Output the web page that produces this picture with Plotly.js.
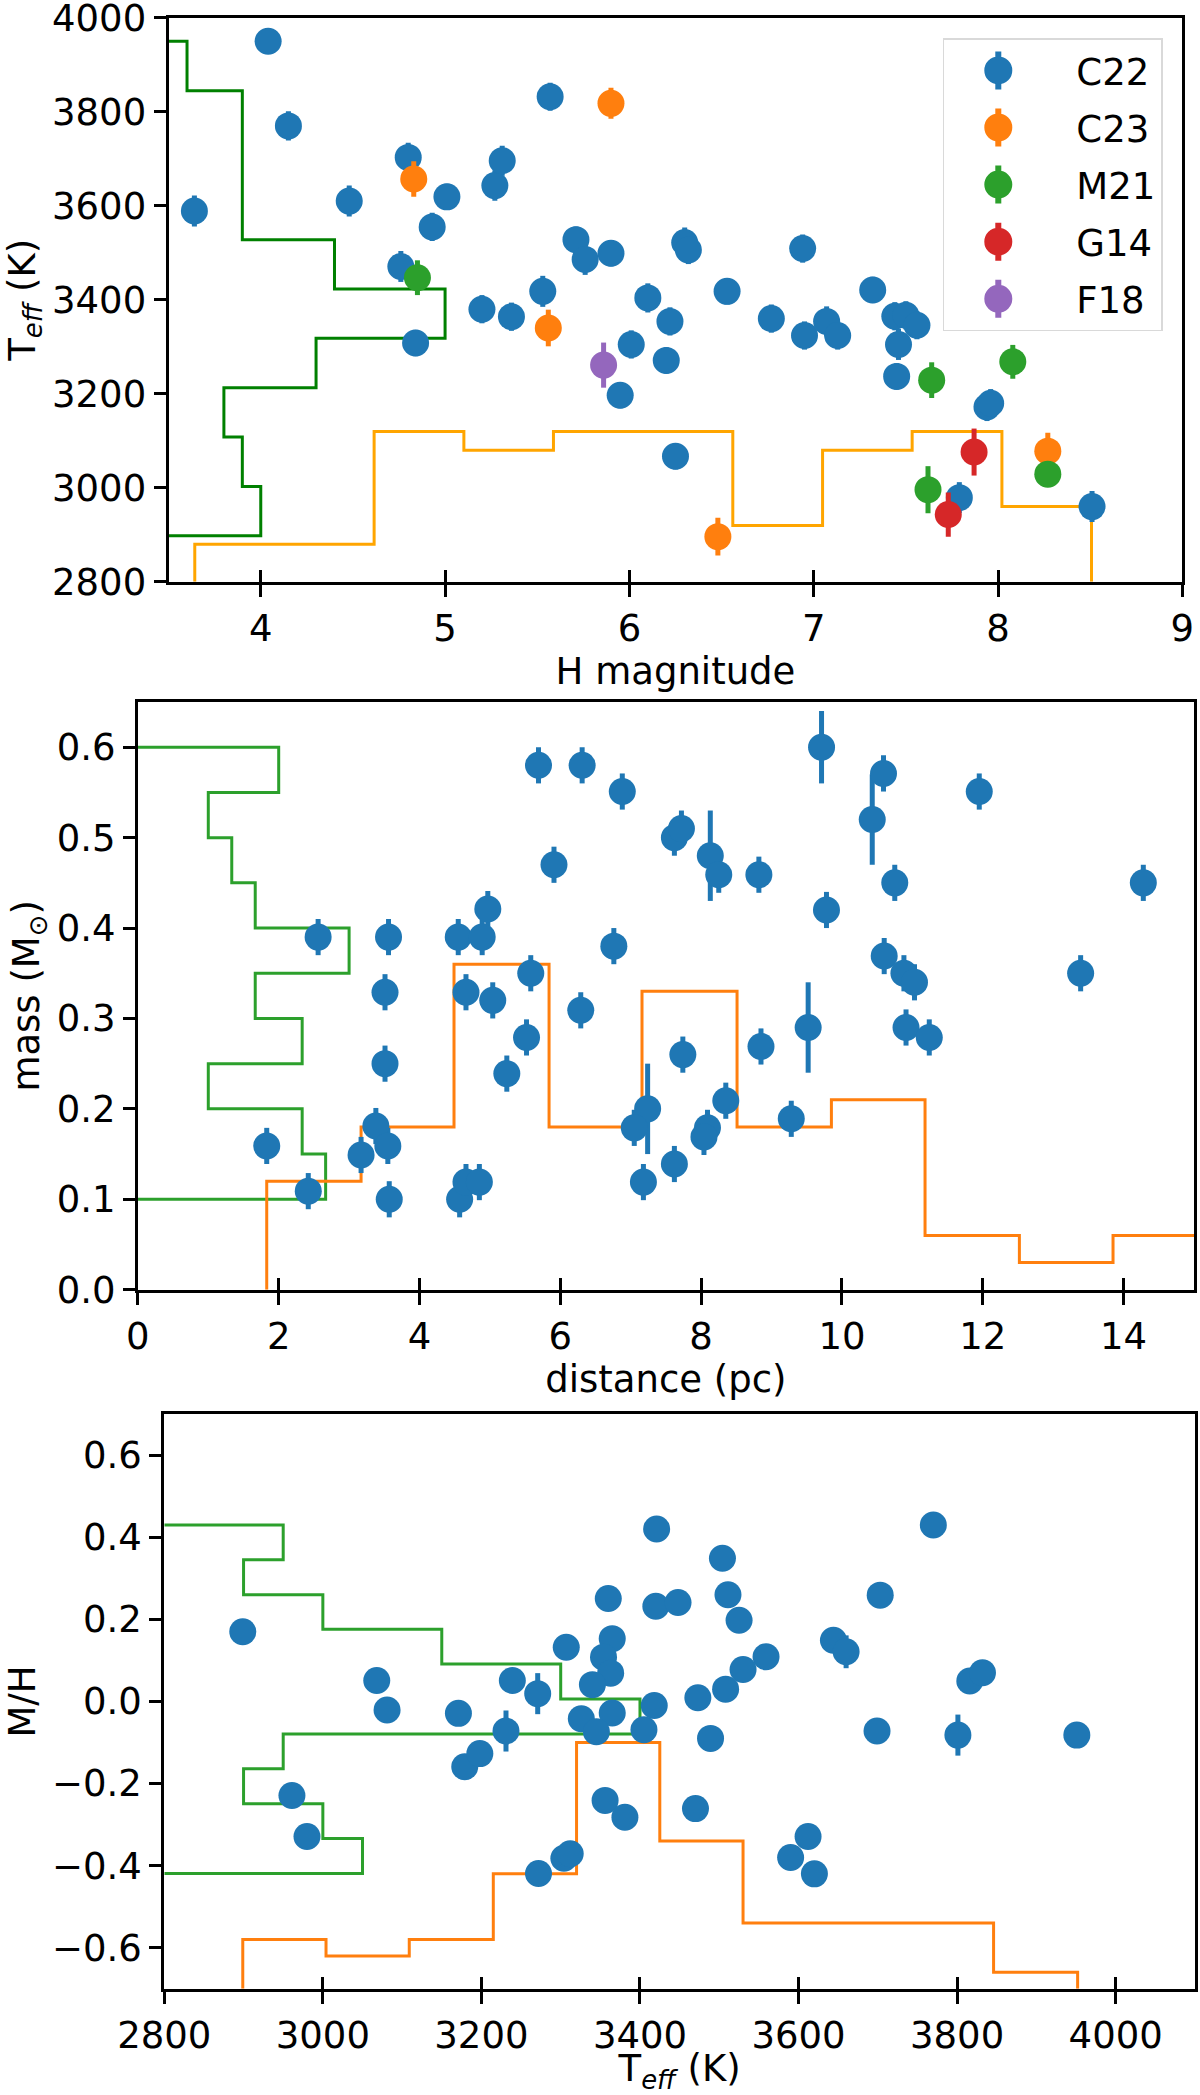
<!DOCTYPE html>
<html>
<head>
<meta charset="utf-8">
<script src="https://cdn.plot.ly/plotly-3.0.1.min.js"></script>
<style>
  body { margin: 0; background: white; }
  #chart { width: 1200px; height: 2095px; }
</style>
</head>
<body>
<div id="chart"></div>
<script>
// ---- panel 1: H magnitude vs Teff ----
var c22H = [3.64, 4.04, 4.15, 4.48, 4.80, 4.76, 4.84, 4.93, 5.01, 5.20, 5.27, 5.31, 5.36, 5.53,
            5.57, 5.71, 5.76, 5.90, 6.10, 6.22, 6.01, 6.20, 5.95, 6.30, 6.32, 6.25, 6.53, 6.77,
            6.94, 6.95, 7.07, 7.13, 7.32, 7.44, 7.50, 7.56, 7.46, 7.45, 7.94, 7.96, 7.79, 8.51];
var c22Teff = [3589, 3950, 3770, 3610, 3703, 3471, 3308, 3555, 3619, 3380, 3643, 3696, 3364, 3418,
               3832, 3528, 3486, 3499, 3404, 3354, 3305, 3271, 3197, 3522, 3506, 3067, 3418, 3360,
               3509, 3324, 3354, 3324, 3421, 3365, 3367, 3346, 3305, 3237, 3172, 3180, 2979, 2960];
var c22TeffErr = [33, 25, 31, 33, 31, 33, 28, 30, 28, 30, 32, 32, 30, 33,
                  30, 28, 33, 28, 31, 30, 30, 28, 28, 32, 30, 28, 28, 30,
                  30, 30, 32, 30, 28, 30, 30, 30, 33, 28, 30, 30, 33, 33];
var c23H = [4.83, 5.56, 5.90, 6.48, 8.27];
var c23Teff = [3657, 3340, 3818, 2896, 3078];
var c23TeffErr = [38, 39, 33, 40, 39];
var m21H = [4.85, 7.64, 8.08, 7.62, 8.27];
var m21Teff = [3447, 3229, 3268, 2996, 3029];
var m21TeffErr = [37, 38, 36, 50, 20];
var g14H = [7.87, 7.73];
var g14Teff = [3076, 2943];
var g14TeffErr = [50, 47];
var f18H = [5.86];
var f18Teff = [3261];
var f18TeffErr = [48];

// histograms drawn along the axes (counts)
var teffBins1 = [2898, 3003, 3108, 3213, 3318, 3423, 3528, 3633, 3738, 3845, 3950];
var teffCounts1 = [5, 4, 3, 8, 15, 9, 4, 4, 4, 1];
var hmagBins = [3.642, 4.129, 4.615, 5.102, 5.588, 6.075, 6.561, 7.048, 7.534, 8.021, 8.507];
var hmagCounts = [2, 2, 8, 7, 8, 8, 3, 7, 8, 4];

// ---- panel 2: distance vs mass ----
var distPc = [1.83, 2.56, 2.42, 3.17, 3.38, 3.55, 3.56, 3.51, 3.51, 3.57, 4.55, 4.89, 4.97, 4.66,
              5.04, 4.57, 4.66, 4.85, 5.24, 5.52, 5.58, 5.69, 5.91, 6.31, 6.29,
              6.88, 6.76, 7.62, 7.72, 8.13, 8.25, 8.82, 9.71, 10.59, 10.43, 9.78, 10.75, 11.95,
              14.28, 10.60, 10.88, 11.03, 10.91, 11.24, 13.39, 7.74, 8.85, 9.52, 7.24, 7.05,
              8.35, 8.09, 8.04, 9.28, 7.62, 7.18];
var massSun = [0.159, 0.390, 0.109, 0.149, 0.181, 0.159, 0.390, 0.329, 0.250, 0.100, 0.390, 0.390, 0.421, 0.329,
               0.320, 0.100, 0.119, 0.119, 0.239, 0.279, 0.350, 0.580, 0.470, 0.580, 0.309,
               0.551, 0.380, 0.500, 0.510, 0.480, 0.459, 0.459, 0.600, 0.571, 0.520, 0.420, 0.450, 0.551,
               0.450, 0.369, 0.350, 0.340, 0.290, 0.279, 0.350, 0.260, 0.269, 0.290, 0.200, 0.179,
               0.209, 0.179, 0.169, 0.189, 0.139, 0.119];
var massErr = [0.02, 0.02, 0.02, 0.02, 0.02, 0.02, 0.02, 0.02, 0.02, 0.02, 0.02, 0.02, 0.02, 0.02,
               0.02, 0.02, 0.02, 0.02, 0.02, 0.02, 0.02, 0.02, 0.02, 0.02, 0.02,
               0.02, 0.02, 0.02, 0.02, 0.05, 0.02, 0.02, 0.04, 0.02, 0.05, 0.02, 0.02, 0.02,
               0.02, 0.02, 0.02, 0.02, 0.02, 0.02, 0.02, 0.02, 0.02, 0.05, 0.05, 0.02,
               0.02, 0.02, 0.02, 0.02, 0.02, 0.02];
var distBins = [1.83, 3.17, 4.49, 5.84, 7.16, 8.51, 9.85, 11.18, 12.52, 13.85, 15.19];
var distCounts = [4, 6, 12, 6, 11, 6, 7, 2, 1, 2];
var massBins = [0.10, 0.15, 0.20, 0.25, 0.30, 0.35, 0.40, 0.45, 0.50, 0.55, 0.60];
var massCounts = [8, 7, 3, 7, 5, 9, 5, 4, 3, 6];

// ---- panel 3: Teff vs M/H ----
var teffK = [2899, 3068, 3081, 2961, 2980, 3171, 3179, 3198, 3231, 3239, 3271, 3272, 3304, 3312, 3307, 3326,
             3360, 3420, 3448, 3365, 3354, 3363, 3340, 3418, 3365, 3345, 3405, 3356, 3381,
             3421, 3504, 3511, 3525, 3559, 3530, 3508, 3473, 3489, 3470, 3612, 3590, 3620,
             3644, 3660, 3703, 3770, 3699, 3801, 3816, 3832, 3951];
var metal = [0.170, 0.051, -0.021, -0.229, -0.329, -0.029, -0.159, -0.127, -0.072, 0.051, 0.019, -0.419, -0.382, -0.371, 0.132, -0.042,
             0.251, 0.232, 0.241, 0.153, 0.108, 0.069, 0.041, -0.010, -0.028, -0.074, -0.069, -0.241, -0.282,
             0.420, 0.349, 0.260, 0.198, 0.109, 0.078, 0.030, 0.009, -0.090, -0.261, -0.329, -0.380, -0.420,
             0.149, 0.121, 0.259, 0.430, -0.072, -0.082, 0.050, 0.070, -0.082];
var metalErr = [0.02, 0.02, 0.02, 0.02, 0.02, 0.02, 0.02, 0.02, 0.05, 0.02, 0.05, 0.02, 0.02, 0.02, 0.02, 0.02,
                0.02, 0.02, 0.02, 0.02, 0.02, 0.02, 0.02, 0.02, 0.02, 0.02, 0.02, 0.02, 0.02,
                0.02, 0.02, 0.02, 0.02, 0.02, 0.02, 0.02, 0.02, 0.02, 0.02, 0.02, 0.02, 0.02,
                0.02, 0.04, 0.02, 0.02, 0.02, 0.05, 0.02, 0.02, 0.02];
var metalBins = [-0.419, -0.334, -0.249, -0.164, -0.079, 0.006, 0.091, 0.176, 0.260, 0.345, 0.430];
var metalCounts = [5, 4, 2, 3, 12, 10, 7, 4, 2, 3];
var teffBins3 = [2899, 3004, 3109, 3215, 3320, 3425, 3530, 3636, 3741, 3846, 3952];
var teffCounts3 = [3, 2, 3, 7, 15, 9, 4, 4, 4, 1];

var FONT = "DejaVu Sans";

// outline of a step histogram (matplotlib histtype='step')
function stepHist(edges, counts, base, scale) {
  var a = [edges[0]], b = [base];
  for (var i = 0; i < counts.length; i++) {
    var v = base + counts[i] * scale;
    a.push(edges[i], edges[i + 1]);
    b.push(v, v);
  }
  a.push(edges[edges.length - 1]);
  b.push(base);
  return { edge: a, level: b };
}

function histTrace(h, horizontal, color, xa, ya) {
  return {
    type: "scatter", mode: "lines",
    x: horizontal ? h.level : h.edge,
    y: horizontal ? h.edge : h.level,
    line: { color: color, width: 3 },
    xaxis: xa, yaxis: ya, showlegend: false, hoverinfo: "skip"
  };
}

function points(x, y, err, color, name, xa, ya, legend) {
  return {
    type: "scatter", mode: "markers", name: name,
    x: x, y: y,
    error_y: { type: "data", array: err, visible: true, color: color, thickness: 5, width: 0 },
    marker: { color: color, size: 27 },
    xaxis: xa, yaxis: ya, showlegend: legend, legendgroup: name
  };
}

var h1g = stepHist(teffBins1, teffCounts1, 3.5, 0.1);
var h1o = stepHist(hmagBins, hmagCounts, 2800, 40);
var h2g = stepHist(massBins, massCounts, 0, 1 / 3);
var h2o = stepHist(distBins, distCounts, 0, 0.03);
var h3g = stepHist(metalBins, metalCounts, 2800, 50);
var h3o = stepHist(teffBins3, teffCounts3, -0.7, 0.04);

var data = [
  histTrace(h1g, true, "#008000", "x", "y"),
  histTrace(h1o, false, "#ffa500", "x", "y"),
  points(c22H, c22Teff, c22TeffErr, "#1f77b4", "C22", "x", "y", true),
  points(c23H, c23Teff, c23TeffErr, "#ff7f0e", "C23", "x", "y", true),
  points(m21H, m21Teff, m21TeffErr, "#2ca02c", "M21", "x", "y", true),
  points(g14H, g14Teff, g14TeffErr, "#d62728", "G14", "x", "y", true),
  points(f18H, f18Teff, f18TeffErr, "#9467bd", "F18", "x", "y", true),

  histTrace(h2g, true, "#2ca02c", "x2", "y2"),
  histTrace(h2o, false, "#ff7f0e", "x2", "y2"),
  points(distPc, massSun, massErr, "#1f77b4", "C22", "x2", "y2", false),

  histTrace(h3g, true, "#2ca02c", "x3", "y3"),
  histTrace(h3o, false, "#ff7f0e", "x3", "y3"),
  points(teffK, metal, metalErr, "#1f77b4", "C22", "x3", "y3", false),

  // empty traces so the inner half of the x ticks gets drawn
  { type: "scatter", x: [], y: [], xaxis: "x4", yaxis: "y", showlegend: false, hoverinfo: "skip" },
  { type: "scatter", x: [], y: [], xaxis: "x5", yaxis: "y2", showlegend: false, hoverinfo: "skip" },
  { type: "scatter", x: [], y: [], xaxis: "x6", yaxis: "y3", showlegend: false, hoverinfo: "skip" }
];

function ax(extra) {
  var a = {
    showline: true, mirror: true, linecolor: "black", linewidth: 3,
    ticks: "outside", ticklen: 12, tickwidth: 3, tickcolor: "black",
    showgrid: false, zeroline: false, autorange: false,
    ticklabeloverflow: "allow",
    tickfont: { family: FONT, size: 37, color: "black" }
  };
  for (var k in extra) a[k] = extra[k];
  return a;
}

function inner(over, anchor, range, tick0, dtick) {
  return {
    overlaying: over, anchor: anchor, range: range, autorange: false,
    tick0: tick0, dtick: dtick, ticks: "inside", ticklen: 12, tickwidth: 3, tickcolor: "black",
    showticklabels: false, showgrid: false, zeroline: false, showline: false
  };
}

var titleFont = { family: FONT, size: 37, color: "black" };

var layout = {
  width: 1200, height: 2095,
  margin: { t: 0, b: 0, l: 0, r: 0 },
  paper_bgcolor: "white", plot_bgcolor: "white",
  font: { family: FONT, size: 37, color: "black" },
  showlegend: true,
  legend: {
    x: 0.969, xanchor: "right", y: 0.9817, yanchor: "top",
    bgcolor: "white", bordercolor: "#d9d9d9", borderwidth: 1.5,
    font: { family: FONT, size: 37, color: "black" },
    itemwidth: 122, tracegroupgap: 6
  },
  xaxis: ax({ domain: [0.1405, 0.9853], anchor: "y", range: [3.5, 9], tick0: 4, dtick: 1,
              title: { text: "H magnitude", font: titleFont, standoff: 0 } }),
  yaxis: ax({ domain: [0.7223, 0.9915], anchor: "x", range: [2800, 4000], dtick: 200,
              title: { text: "T<sub><i>eff</i></sub> (K)", font: titleFont, standoff: 6 } }),
  xaxis2: ax({ domain: [0.1149, 0.995], anchor: "y2", range: [0, 15], tick0: 0, dtick: 2,
               title: { text: "distance (pc)", font: titleFont, standoff: 8 } }),
  yaxis2: ax({ domain: [0.3844, 0.6649], anchor: "x2", range: [0, 0.65], dtick: 0.1, tickformat: ".1f",
               title: { text: "mass (M<sub>\u2299</sub>)", font: titleFont, standoff: 6 } }),
  xaxis3: ax({ domain: [0.1369, 0.9958], anchor: "y3", range: [2800, 4100], tick0: 2800, dtick: 200,
               title: { text: "T<sub><i>eff</i></sub> (K)", font: titleFont, standoff: 9 } }),
  yaxis3: ax({ domain: [0.0507, 0.3250], anchor: "x3", range: [-0.7, 0.7], tick0: -0.6, dtick: 0.2, tickformat: ".1f",
               title: { text: "M/H", font: titleFont, standoff: 6 } }),
  xaxis4: inner("x", "y", [3.5, 9], 4, 1),
  xaxis5: inner("x2", "y2", [0, 15], 0, 2),
  xaxis6: inner("x3", "y3", [2800, 4100], 2800, 200)
};

Plotly.newPlot("chart", data, layout, { staticPlot: true }).then(function (gd) {
  // legend symbols: large dot with the error-bar stroke, nudged left as in matplotlib
  gd.querySelectorAll(".legend .scatterpts").forEach(function (p) {
    p.setAttribute("d", "M2,0A14,14 0 1,1 -12,-14A14,14 0 0,1 2,0Z M-15,-19H-9V19H-15Z");
  });
});
</script>
</body>
</html>
